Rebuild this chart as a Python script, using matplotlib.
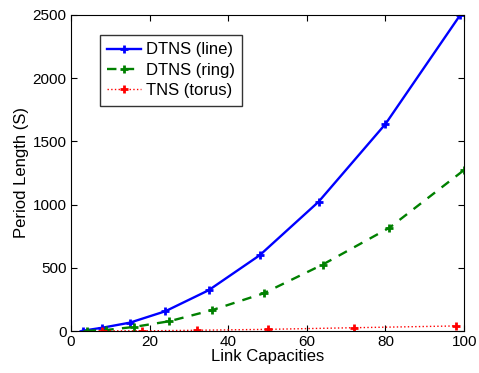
import matplotlib.pyplot as plt
import numpy as np

plt.rcParams['font.family'] = ['Liberation Sans', 'DejaVu Sans']

# data
line_x = [3, 8, 15, 24, 35, 48, 63, 80, 99]
line_y = [2, 26, 66, 156, 322, 599, 1023, 1638, 2500]

ring_x = [4, 9, 16, 25, 36, 49, 64, 81, 100]
ring_y = [1, 8, 32, 77, 166, 298, 525, 817, 1274]

torus_x = [8, 18, 32, 50, 72, 98]
torus_y = [2, 1, 6, 13, 26, 40]

fig = plt.figure(figsize=(4.79, 3.73), dpi=100)
ax = fig.add_axes([0.148, 0.1126, 0.821, 0.8472])

ax.plot(line_x, line_y, color='#0000ff', ls='-', lw=1.7, marker='+',
        ms=6, mew=2, label='DTNS (line)')
ax.plot(ring_x, ring_y, color='#008000', ls='--', lw=1.7, marker='+',
        ms=6, mew=2, dashes=(4, 3.5), label='DTNS (ring)')
ax.plot(torus_x, torus_y, color='#ff0000', ls=':', lw=1.0, marker='+',
        ms=6, mew=2, label='TNS (torus)')

ax.set_xlim(0, 100)
ax.set_ylim(0, 2500)
ax.set_xticks(np.arange(0, 101, 20))
ax.set_yticks(np.arange(0, 2501, 500))
ax.tick_params(direction='in', top=True, right=True, labelsize=11,
               length=4, pad=3)
ax.set_xlabel('Link Capacities', fontsize=12, labelpad=0)
ax.set_ylabel('Period Length (S)', fontsize=12, labelpad=3)

leg = ax.legend(loc='upper left', bbox_to_anchor=(0.074, 0.937), numpoints=1,
                fontsize=12, frameon=True, fancybox=False, handlelength=2.0,
                handletextpad=0.3, borderpad=0.45, labelspacing=0.32,
                borderaxespad=0)
leg.get_frame().set_edgecolor('black')
leg.get_frame().set_linewidth(1.0)

fig.savefig('out.png', dpi=100)
